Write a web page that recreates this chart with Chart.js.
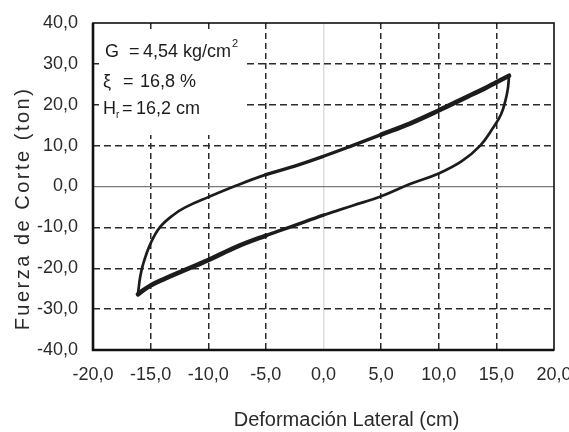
<!DOCTYPE html>
<html>
<head>
<meta charset="utf-8">
<title>Lazo de histéresis</title>
<script src="https://cdn.jsdelivr.net/npm/chart.js@4.4.1/dist/chart.umd.min.js"></script>
<style>
  html, body { margin: 0; padding: 0; background: #fff; }
  canvas { display: block; }
</style>
</head>
<body>
<canvas id="loop" width="569" height="432"></canvas>
<script>
// ---------------------------------------------------------------------
// Data
// ---------------------------------------------------------------------
// lower branch: left tip -> right tip
const lowerX = [-16.1, -15.6, -15.0, -13.8, -12.5, -10.0, -7.5, -5.0, -2.5, 0.0, 2.5, 5.0, 7.5, 10.0, 12.0, 13.6, 14.7, 15.4, 15.8, 16.0, 16.1];
const lowerY = [-26.4, -25.3, -24.2, -22.6, -21.0, -18.0, -14.7, -12.0, -9.5, -7.0, -4.7, -2.4, 0.6, 3.2, 6.2, 10.0, 14.3, 17.6, 21.2, 24.0, 27.1];
// upper branch: right tip -> left tip
const upperX = [16.1, 15.0, 14.0, 12.5, 10.0, 7.5, 5.0, 2.5, 0.0, -2.5, -5.0, -7.5, -10.0, -12.0, -13.0, -14.2, -15.0, -15.6, -15.9, -16.1];
const upperY = [27.1, 25.5, 24.0, 22.0, 18.6, 15.4, 12.7, 10.0, 7.4, 5.0, 2.9, 0.3, -2.6, -5.1, -6.9, -10.0, -13.9, -18.5, -22.0, -26.4];

const xTickValues = [-20, -15, -10, -5, 0, 5, 10, 15, 20];
const yTickValues = [-40, -30, -20, -10, 0, 10, 20, 30, 40];

const xTitle = "Deformación Lateral (cm)";
const yTitle = "Fuerza de Corte (ton)";

const INK = "#1c1c1c";
const FONT = "'Liberation Sans', Arial, sans-serif";

function toPoints(xs, ys) {
  return xs.map((x, i) => ({ x, y: ys[i] }));
}

function comma(v) {
  return v.toFixed(1).replace(".", ",");
}

// ---------------------------------------------------------------------
// Decorations: annotation box, frame, axis titles
// ---------------------------------------------------------------------
const decor = {
  id: "decor",
  beforeDatasetsDraw(chart) {
    const { ctx, chartArea: a } = chart;
    ctx.save();
    ctx.fillStyle = "#fff";
    ctx.fillRect(a.left + 6, a.top + 7, 146, 105);

    ctx.fillStyle = INK;
    ctx.textBaseline = "alphabetic";
    ctx.textAlign = "left";
    ctx.font = "18px " + FONT;

    // G = 4,54 kg/cm²
    ctx.fillText("G", a.left + 12, a.top + 34);
    ctx.fillText("=", a.left + 36, a.top + 34);
    ctx.fillText("4,54 kg/cm", a.left + 50, a.top + 34);
    const w = ctx.measureText("4,54 kg/cm").width;
    ctx.font = "11px " + FONT;
    ctx.fillText("2", a.left + 50 + w + 1, a.top + 24);

    // ξ = 16,8 %
    ctx.font = "18px " + FONT;
    ctx.fillText("ξ", a.left + 10, a.top + 64);
    ctx.fillText("=", a.left + 30, a.top + 64);
    ctx.fillText("16,8 %", a.left + 47, a.top + 64);

    // Hr = 16,2 cm
    ctx.fillText("H", a.left + 10, a.top + 91);
    const wh = ctx.measureText("H").width;
    ctx.font = "10px " + FONT;
    ctx.fillText("r", a.left + 10 + wh, a.top + 95);
    ctx.font = "18px " + FONT;
    ctx.fillText("=", a.left + 29, a.top + 91);
    ctx.fillText("16,2 cm", a.left + 43, a.top + 91);
    ctx.restore();
  },
  afterDatasetsDraw(chart) {
    const { ctx, chartArea: a } = chart;
    ctx.save();
    ctx.strokeStyle = "#111";
    ctx.lineWidth = 1.6;
    ctx.strokeRect(a.left, a.top, a.right - a.left, a.bottom - a.top);
    ctx.lineWidth = 2.6;
    ctx.beginPath();
    ctx.moveTo(a.left, a.top);
    ctx.lineTo(a.left, a.bottom);
    ctx.lineTo(a.right, a.bottom);
    ctx.stroke();
    ctx.restore();
  },
  afterDraw(chart) {
    const { ctx, chartArea: a } = chart;
    ctx.save();
    ctx.fillStyle = "#2a2a2a";
    ctx.font = "20px " + FONT;

    ctx.textAlign = "center";
    ctx.textBaseline = "alphabetic";
    ctx.fillText(xTitle, (a.left + a.right) / 2 + 23, a.bottom + 76);

    ctx.translate(a.left - 70, (a.top + a.bottom) / 2 + 22);
    ctx.rotate(-Math.PI / 2);
    ctx.textBaseline = "middle";
    ctx.letterSpacing = "2.5px";
    ctx.fillText(yTitle, 0, 0);
    ctx.restore();
  },
};

// ---------------------------------------------------------------------
// Chart
// ---------------------------------------------------------------------
function gridColor(zeroColor) {
  return (c) => {
    if (!c.tick) return "transparent";
    const v = c.tick.value;
    if (v === 0) return zeroColor;
    if (c.index === 0 || c.index === c.scale.ticks.length - 1) return "transparent";
    return "#2b2b2b";
  };
}

const lowerWidth = (c) => (c.p0.parsed.x < -6 ? 4.6 : c.p0.parsed.x < 0 ? 3.4 : 2.7);
const upperWidth = (c) => (c.p0.parsed.x > 5 ? 4.6 : c.p0.parsed.x > -3 ? 3.4 : 2.7);

new Chart(document.getElementById("loop"), {
  type: "scatter",
  data: {
    datasets: [
      {
        label: "Rama inferior",
        data: toPoints(lowerX, lowerY),
        showLine: true,
        borderColor: INK,
        borderWidth: 3,
        pointRadius: 0,
        tension: 0.4,
        borderCapStyle: "round",
        borderJoinStyle: "round",
        segment: { borderWidth: lowerWidth },
      },
      {
        label: "Rama superior",
        data: toPoints(upperX, upperY),
        showLine: true,
        borderColor: INK,
        borderWidth: 3,
        pointRadius: 0,
        tension: 0.4,
        borderCapStyle: "round",
        borderJoinStyle: "round",
        segment: { borderWidth: upperWidth },
      },
    ],
  },
  options: {
    responsive: false,
    animation: false,
    devicePixelRatio: 1,
    layout: { padding: { left: 0, right: 15, top: 23, bottom: 0 } },
    plugins: {
      legend: { display: false },
      tooltip: { enabled: false },
    },
    scales: {
      x: {
        type: "linear",
        min: -20,
        max: 20,
        afterBuildTicks: (s) => { s.ticks = xTickValues.map((v) => ({ value: v })); },
        afterFit: (s) => { s.height = 82; s.paddingLeft = 0; s.paddingRight = 0; },
        ticks: {
          color: "#2a2a2a",
          padding: 14,
          maxRotation: 0,
          font: { family: FONT, size: 18 },
          callback: (v) => comma(v),
        },
        grid: { drawTicks: false, lineWidth: 1.5, color: gridColor("#dcdcdc") },
        border: { display: false, dash: (c) => (c.tick && c.tick.value !== 0 ? [6, 4] : []) },
      },
      y: {
        type: "linear",
        min: -40,
        max: 40,
        afterBuildTicks: (s) => { s.ticks = yTickValues.map((v) => ({ value: v })); },
        afterFit: (s) => { s.width = 93; s.paddingTop = 0; s.paddingBottom = 0; },
        ticks: {
          color: "#2a2a2a",
          padding: 15,
          font: { family: FONT, size: 18 },
          callback: (v) => comma(v),
        },
        grid: {
          drawTicks: false,
          lineWidth: (c) => (c.tick && c.tick.value === 0 ? 1.2 : 1.5),
          color: gridColor("#7a7a7a"),
        },
        border: { display: false, dash: (c) => (c.tick && c.tick.value !== 0 ? [7, 4] : []) },
      },
    },
  },
  plugins: [decor],
});
</script>
</body>
</html>
